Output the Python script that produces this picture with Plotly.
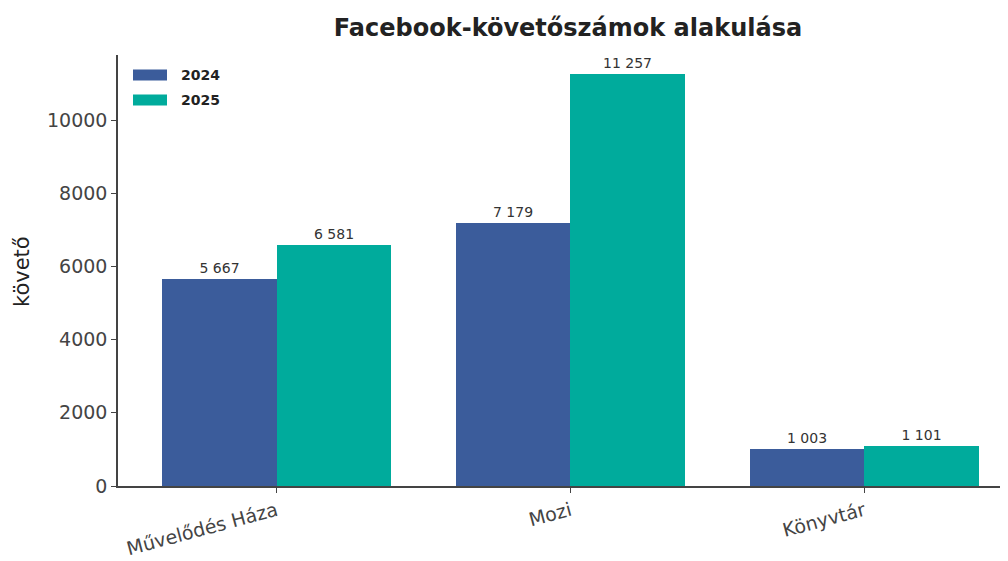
import plotly.graph_objects as go

categories = ["Művelődés Háza", "Mozi", "Könyvtár"]
years = ["2024", "2025"]
values_2024 = [5667, 7179, 1003]
values_2025 = [6581, 11257, 1101]
colors = ["#3B5C9B", "#00AB9C"]

def fmt(v):
    return f"{v:,}".replace(",", " ")

x_idx = list(range(len(categories)))
width = 0.39

fig = go.Figure()
for vals, name, col, off in [(values_2024, years[0], colors[0], -width / 2),
                             (values_2025, years[1], colors[1], width / 2)]:
    fig.add_trace(go.Bar(
        x=[i + off for i in x_idx], y=vals, name=name, width=width,
        marker=dict(color=col, line=dict(width=0)),
        text=[fmt(v) for v in vals], textposition="outside",
        textfont=dict(family="DejaVu Sans", size=14, color="#333333"),
        cliponaxis=False, showlegend=False,
    ))

# the page body adds an 8px offset; work in page pixels and convert
OFF = 8
W, H = 1008 - OFF, 561 - OFF
L, R, T, B = 118 - OFF, 0, 55 - OFF, 561 - 486
pw, ph = W - L - R, H - T - B
def px_x(p):
    return (p - OFF - L) / pw
def px_y(p):
    return (H - B - (p - OFF)) / ph

for i, (name, col) in enumerate(zip(years, colors)):
    cy = 75 + i * 25
    fig.add_shape(type="rect", xref="paper", yref="paper",
                  x0=px_x(133), x1=px_x(167), y0=px_y(cy + 5.5), y1=px_y(cy - 5.5),
                  fillcolor=col, line=dict(width=0))
    fig.add_annotation(x=px_x(179), y=px_y(cy), xref="paper", yref="paper",
                       text=f"<b>{name}</b>", showarrow=False, xanchor="left", yanchor="middle",
                       font=dict(family="DejaVu Sans", size=14, color="#222222"))

fig.add_annotation(x=px_x(22), y=px_y(272), xref="paper", yref="paper",
                   text="követő", showarrow=False, textangle=-90,
                   xanchor="center", yanchor="middle", borderpad=0,
                   font=dict(family="DejaVu Sans", size=21, color="#222222"))

fig.update_layout(
    width=W, height=H,
    margin=dict(l=L, r=R, t=T, b=B),
    paper_bgcolor="white", plot_bgcolor="white",
    title=dict(text="<b>Facebook-követőszámok alakulása</b>", x=(568 - OFF) / W,
               xanchor="center", y=1 - (28 - OFF) / H, yanchor="middle", yref="container",
               font=dict(family="DejaVu Sans", size=24, color="#222222")),
    showlegend=False,
    bargap=0, barmode="overlay",
    font=dict(family="DejaVu Sans"),
)
fig.update_xaxes(
    range=[-0.54, 2.49], tickmode="array", tickvals=x_idx, ticktext=categories,
    tickangle=-15, tickfont=dict(size=19, color="#444444"), automargin=False,
    ticklabelstandoff=0,
    showline=True, linecolor="#444444", linewidth=1.5,
    ticks="outside", ticklen=5, tickcolor="#444444", showgrid=False, zeroline=False,
)
fig.update_yaxes(
    range=[0, 11780], tickvals=[0, 2000, 4000, 6000, 8000, 10000],
    ticktext=["0", "2000", "4000", "6000", "8000", "10000"],
    tickfont=dict(size=19, color="#444444"), automargin=False,
    showline=True, linecolor="#444444", linewidth=1.5,
    ticks="outside", ticklen=5, tickcolor="#444444", showgrid=False, zeroline=False,
)

fig.write_html("out.html")
